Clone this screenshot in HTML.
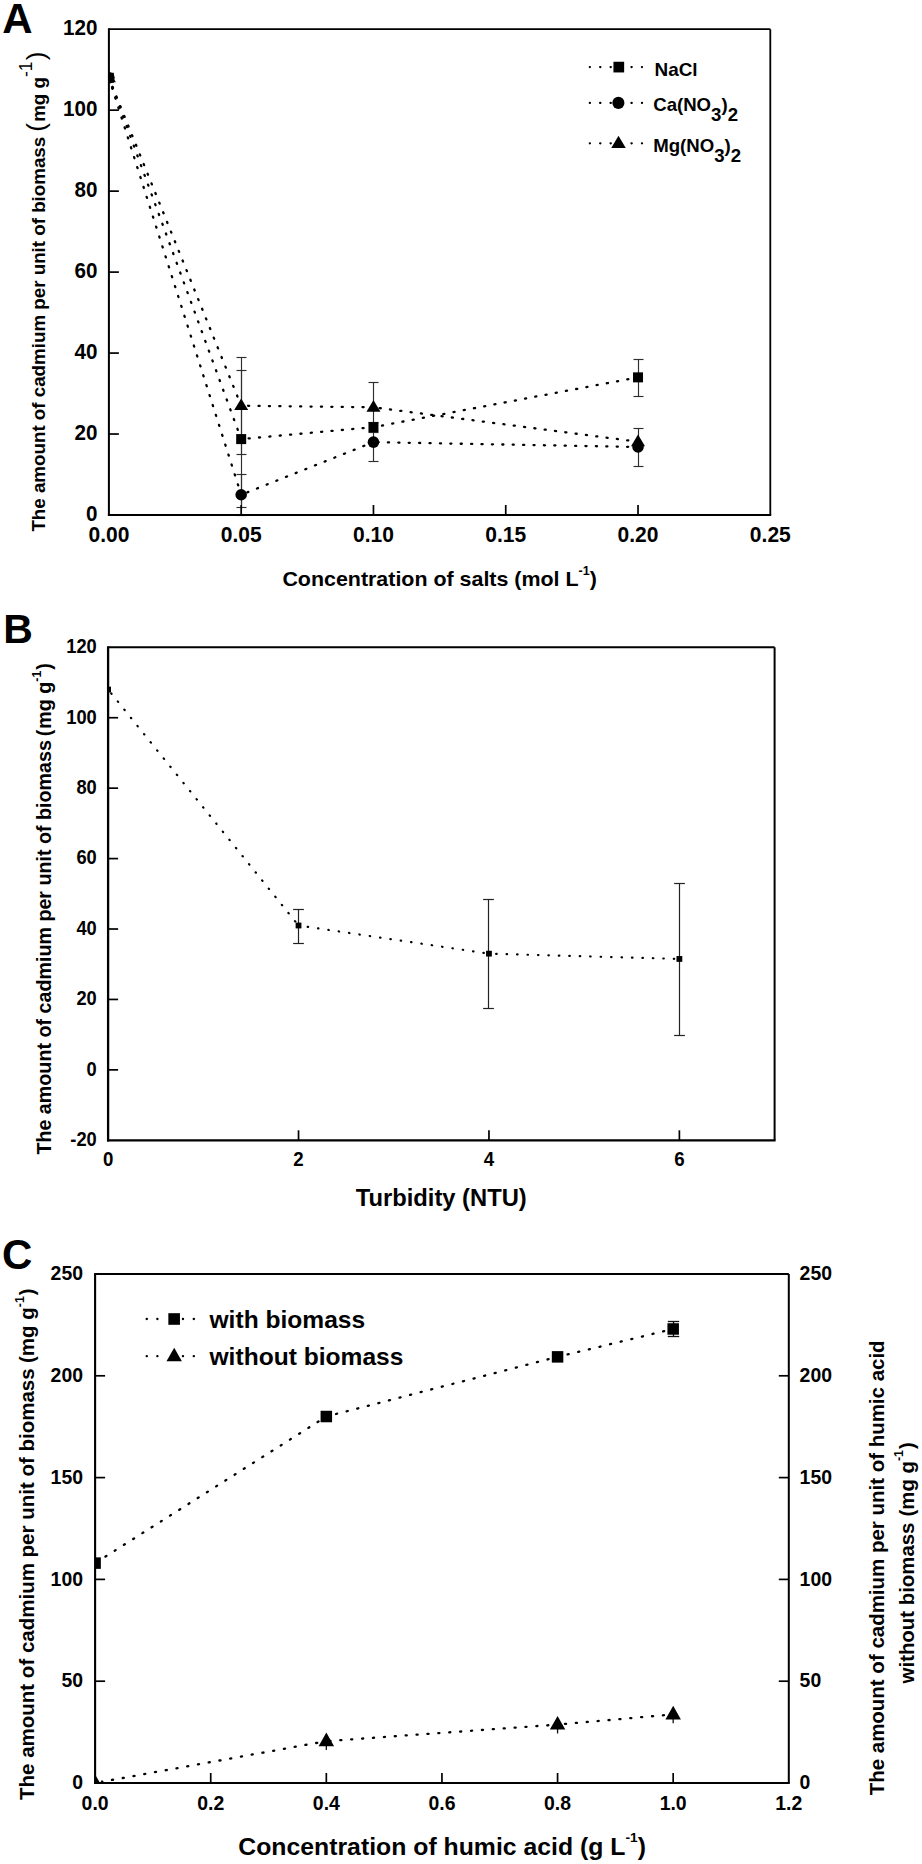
<!DOCTYPE html>
<html><head><meta charset="utf-8"><title>Figure</title>
<style>html,body{margin:0;padding:0;background:#fff}svg{display:block}</style></head>
<body>
<svg width="922" height="1864" viewBox="0 0 922 1864" font-family="Liberation Sans, Arial, Helvetica, sans-serif" font-weight="bold" fill="#000">
<rect width="922" height="1864" fill="#fff"/>
<clipPath id="ca"><rect x="108.90" y="19.20" width="671.40" height="505.80"/></clipPath>
<line x1="241.50" y1="357.50" x2="241.50" y2="454.50" stroke="#2e2e2e" stroke-width="1.15" />
<line x1="236.50" y1="357.50" x2="246.50" y2="357.50" stroke="#2e2e2e" stroke-width="1.15" />
<line x1="236.50" y1="454.50" x2="246.50" y2="454.50" stroke="#2e2e2e" stroke-width="1.15" />
<line x1="241.50" y1="370.50" x2="241.50" y2="507.50" stroke="#2e2e2e" stroke-width="1.15" />
<line x1="236.50" y1="370.50" x2="246.50" y2="370.50" stroke="#2e2e2e" stroke-width="1.15" />
<line x1="236.50" y1="507.50" x2="246.50" y2="507.50" stroke="#2e2e2e" stroke-width="1.15" />
<line x1="241.50" y1="474.50" x2="241.50" y2="515.50" stroke="#2e2e2e" stroke-width="1.15" />
<line x1="236.50" y1="474.50" x2="246.50" y2="474.50" stroke="#2e2e2e" stroke-width="1.15" />
<line x1="236.50" y1="515.50" x2="246.50" y2="515.50" stroke="#2e2e2e" stroke-width="1.15" />
<line x1="373.50" y1="382.50" x2="373.50" y2="432.50" stroke="#2e2e2e" stroke-width="1.15" />
<line x1="368.50" y1="382.50" x2="378.50" y2="382.50" stroke="#2e2e2e" stroke-width="1.15" />
<line x1="368.50" y1="432.50" x2="378.50" y2="432.50" stroke="#2e2e2e" stroke-width="1.15" />
<line x1="373.50" y1="422.50" x2="373.50" y2="461.50" stroke="#2e2e2e" stroke-width="1.15" />
<line x1="368.50" y1="422.50" x2="378.50" y2="422.50" stroke="#2e2e2e" stroke-width="1.15" />
<line x1="368.50" y1="461.50" x2="378.50" y2="461.50" stroke="#2e2e2e" stroke-width="1.15" />
<line x1="638.50" y1="359.50" x2="638.50" y2="396.50" stroke="#2e2e2e" stroke-width="1.15" />
<line x1="633.50" y1="359.50" x2="643.50" y2="359.50" stroke="#2e2e2e" stroke-width="1.15" />
<line x1="633.50" y1="396.50" x2="643.50" y2="396.50" stroke="#2e2e2e" stroke-width="1.15" />
<line x1="638.50" y1="428.50" x2="638.50" y2="466.50" stroke="#2e2e2e" stroke-width="1.15" />
<line x1="633.50" y1="428.50" x2="643.50" y2="428.50" stroke="#2e2e2e" stroke-width="1.15" />
<line x1="633.50" y1="466.50" x2="643.50" y2="466.50" stroke="#2e2e2e" stroke-width="1.15" />
<g clip-path="url(#ca)">
<line x1="241.18" y1="439.09" x2="108.90" y2="77.78" stroke="#000" stroke-width="2.3" stroke-linecap="round" stroke-dasharray="1.1 9.30" stroke-dashoffset="0.55"/>
<line x1="373.46" y1="427.15" x2="241.18" y2="439.09" stroke="#000" stroke-width="2.3" stroke-linecap="round" stroke-dasharray="1.1 9.30" stroke-dashoffset="0.55"/>
<line x1="638.02" y1="377.36" x2="373.46" y2="427.15" stroke="#000" stroke-width="2.3" stroke-linecap="round" stroke-dasharray="1.1 9.30" stroke-dashoffset="0.55"/>
<line x1="241.18" y1="494.76" x2="108.90" y2="77.78" stroke="#000" stroke-width="2.3" stroke-linecap="round" stroke-dasharray="1.1 9.30" stroke-dashoffset="0.55"/>
<line x1="373.46" y1="442.13" x2="241.18" y2="494.76" stroke="#000" stroke-width="2.3" stroke-linecap="round" stroke-dasharray="1.1 9.30" stroke-dashoffset="0.55"/>
<line x1="638.02" y1="446.99" x2="373.46" y2="442.13" stroke="#000" stroke-width="2.3" stroke-linecap="round" stroke-dasharray="1.1 9.30" stroke-dashoffset="0.55"/>
<line x1="241.18" y1="405.69" x2="108.90" y2="77.78" stroke="#000" stroke-width="2.3" stroke-linecap="round" stroke-dasharray="1.1 9.30" stroke-dashoffset="0.55"/>
<line x1="373.46" y1="407.31" x2="241.18" y2="405.69" stroke="#000" stroke-width="2.3" stroke-linecap="round" stroke-dasharray="1.1 9.30" stroke-dashoffset="0.55"/>
<line x1="638.02" y1="441.73" x2="373.46" y2="407.31" stroke="#000" stroke-width="2.3" stroke-linecap="round" stroke-dasharray="1.1 9.30" stroke-dashoffset="0.55"/>
<rect x="103.90" y="72.78" width="10" height="10" fill="#000"/>
<rect x="236.18" y="434.09" width="10" height="10" fill="#000"/>
<rect x="368.46" y="422.15" width="10" height="10" fill="#000"/>
<rect x="633.02" y="372.36" width="10" height="10" fill="#000"/>
<circle cx="108.90" cy="77.78" r="5.80" fill="#000"/>
<circle cx="241.18" cy="494.76" r="5.80" fill="#000"/>
<circle cx="373.46" cy="442.13" r="5.80" fill="#000"/>
<circle cx="638.02" cy="446.99" r="5.80" fill="#000"/>
<polygon points="108.90,70.48 101.90,82.18 115.90,82.18" fill="#000"/>
<polygon points="241.18,398.39 234.18,410.09 248.18,410.09" fill="#000"/>
<polygon points="373.46,400.01 366.46,411.71 380.46,411.71" fill="#000"/>
<polygon points="638.02,434.43 631.02,446.13 645.02,446.13" fill="#000"/>
</g>
<line x1="108.90" y1="29.20" x2="770.30" y2="29.20" stroke="#000" stroke-width="1.8" />
<line x1="770.30" y1="29.20" x2="770.30" y2="515.00" stroke="#000" stroke-width="1.8" />
<line x1="108.90" y1="28.30" x2="108.90" y2="516.00" stroke="#000" stroke-width="2.0" />
<line x1="107.90" y1="515.00" x2="771.20" y2="515.00" stroke="#000" stroke-width="2.0" />
<line x1="108.90" y1="434.03" x2="118.90" y2="434.03" stroke="#000" stroke-width="1.7" />
<line x1="108.90" y1="353.07" x2="118.90" y2="353.07" stroke="#000" stroke-width="1.7" />
<line x1="108.90" y1="272.10" x2="118.90" y2="272.10" stroke="#000" stroke-width="1.7" />
<line x1="108.90" y1="191.13" x2="118.90" y2="191.13" stroke="#000" stroke-width="1.7" />
<line x1="108.90" y1="110.17" x2="118.90" y2="110.17" stroke="#000" stroke-width="1.7" />
<line x1="241.18" y1="515.00" x2="241.18" y2="505.00" stroke="#000" stroke-width="1.7" />
<line x1="373.46" y1="515.00" x2="373.46" y2="505.00" stroke="#000" stroke-width="1.7" />
<line x1="505.74" y1="515.00" x2="505.74" y2="505.00" stroke="#000" stroke-width="1.7" />
<line x1="638.02" y1="515.00" x2="638.02" y2="505.00" stroke="#000" stroke-width="1.7" />
<text transform="translate(97.40,521.20) scale(0.93,1)" font-size="22.2" text-anchor="end" >0</text>
<text transform="translate(97.40,440.23) scale(0.93,1)" font-size="22.2" text-anchor="end" >20</text>
<text transform="translate(97.40,359.27) scale(0.93,1)" font-size="22.2" text-anchor="end" >40</text>
<text transform="translate(97.40,278.30) scale(0.93,1)" font-size="22.2" text-anchor="end" >60</text>
<text transform="translate(97.40,197.33) scale(0.93,1)" font-size="22.2" text-anchor="end" >80</text>
<text transform="translate(97.40,116.37) scale(0.93,1)" font-size="22.2" text-anchor="end" >100</text>
<text transform="translate(97.40,35.40) scale(0.93,1)" font-size="22.2" text-anchor="end" >120</text>
<text transform="translate(108.90,542.30) scale(0.955,1)" font-size="22" text-anchor="middle" >0.00</text>
<text transform="translate(241.18,542.30) scale(0.955,1)" font-size="22" text-anchor="middle" >0.05</text>
<text transform="translate(373.46,542.30) scale(0.955,1)" font-size="22" text-anchor="middle" >0.10</text>
<text transform="translate(505.74,542.30) scale(0.955,1)" font-size="22" text-anchor="middle" >0.15</text>
<text transform="translate(638.02,542.30) scale(0.955,1)" font-size="22" text-anchor="middle" >0.20</text>
<text transform="translate(770.30,542.30) scale(0.955,1)" font-size="22" text-anchor="middle" >0.25</text>
<text transform="translate(2.30,33.00) scale(1.0,1)" font-size="42" text-anchor="start" >A</text>
<text transform="translate(439.60,585.60) scale(1.04,1)" font-size="20.6" text-anchor="middle" >Concentration of salts (mol L<tspan dy="-10.7" font-size="12">-1</tspan><tspan dy="10.7">)</tspan></text>
<text transform="translate(44.80,531.60) rotate(-90) scale(1,1.0)" font-size="18.75" text-anchor="start">The amount of cadmium per unit of biomass</text>
<text transform="translate(44.80,51.60) rotate(-90) scale(1,1.0)" font-size="18.75" text-anchor="end"><tspan font-size="26" font-weight="normal">(</tspan><tspan dx="1.2">mg g</tspan><tspan dy="-12.5" dx="0" font-size="17.5" font-weight="normal">-1</tspan><tspan dy="12.5" dx="1.2" font-size="26" font-weight="normal">)</tspan></text>
<line x1="642.05" y1="67.10" x2="589.80" y2="67.10" stroke="#000" stroke-width="2.2" stroke-linecap="round" stroke-dasharray="0.3 10.15" stroke-dashoffset="0.15"/>
<rect x="613.45" y="61.75" width="10.7" height="10.7" fill="#000"/>
<text transform="translate(654.60,75.60) scale(1.05,1)" font-size="18" text-anchor="start" >NaCl</text>
<line x1="642.05" y1="102.90" x2="589.80" y2="102.90" stroke="#000" stroke-width="2.2" stroke-linecap="round" stroke-dasharray="0.3 10.15" stroke-dashoffset="0.15"/>
<circle cx="618.40" cy="102.90" r="6.05" fill="#000"/>
<text transform="translate(653.20,111.30) scale(1.035,1)" font-size="18" text-anchor="start" >Ca(NO<tspan dy="9.7">3</tspan><tspan dy="-9.7">)</tspan><tspan dy="9.7">2</tspan></text>
<line x1="642.05" y1="143.30" x2="589.80" y2="143.30" stroke="#000" stroke-width="2.2" stroke-linecap="round" stroke-dasharray="0.3 10.15" stroke-dashoffset="0.15"/>
<polygon points="618.50,135.70 611.25,147.90 625.75,147.90" fill="#000"/>
<text transform="translate(653.20,151.80) scale(1.035,1)" font-size="18" text-anchor="start" >Mg(NO<tspan dy="9.7">3</tspan><tspan dy="-9.7">)</tspan><tspan dy="9.7">2</tspan></text>
<line x1="298.50" y1="909.50" x2="298.50" y2="943.50" stroke="#222" stroke-width="1.2" />
<line x1="293.10" y1="909.50" x2="303.90" y2="909.50" stroke="#222" stroke-width="1.2" />
<line x1="293.10" y1="943.50" x2="303.90" y2="943.50" stroke="#222" stroke-width="1.2" />
<line x1="488.50" y1="899.50" x2="488.50" y2="1008.50" stroke="#222" stroke-width="1.2" />
<line x1="483.10" y1="899.50" x2="493.90" y2="899.50" stroke="#222" stroke-width="1.2" />
<line x1="483.10" y1="1008.50" x2="493.90" y2="1008.50" stroke="#222" stroke-width="1.2" />
<line x1="679.50" y1="883.50" x2="679.50" y2="1035.50" stroke="#222" stroke-width="1.2" />
<line x1="674.10" y1="883.50" x2="684.90" y2="883.50" stroke="#222" stroke-width="1.2" />
<line x1="674.10" y1="1035.50" x2="684.90" y2="1035.50" stroke="#222" stroke-width="1.2" />
<line x1="298.53" y1="925.49" x2="108.10" y2="689.56" stroke="#000" stroke-width="2.2" stroke-linecap="round" stroke-dasharray="0.5 9.95" stroke-dashoffset="-5.15"/>
<line x1="488.96" y1="953.66" x2="298.53" y2="925.49" stroke="#000" stroke-width="2.2" stroke-linecap="round" stroke-dasharray="0.5 9.95" stroke-dashoffset="-5.15"/>
<line x1="679.39" y1="958.95" x2="488.96" y2="953.66" stroke="#000" stroke-width="2.2" stroke-linecap="round" stroke-dasharray="0.5 9.95" stroke-dashoffset="-5.15"/>
<clipPath id="cb"><rect x="108.10" y="647.30" width="666.50" height="493.00"/></clipPath>
<g clip-path="url(#cb)">
<rect x="105.20" y="686.66" width="5.8" height="5.8" fill="#000"/>
</g>
<rect x="295.63" y="922.59" width="5.8" height="5.8" fill="#000"/>
<rect x="486.06" y="950.76" width="5.8" height="5.8" fill="#000"/>
<rect x="676.49" y="956.05" width="5.8" height="5.8" fill="#000"/>
<line x1="108.10" y1="647.30" x2="774.60" y2="647.30" stroke="#000" stroke-width="2.1" />
<line x1="774.60" y1="647.30" x2="774.60" y2="1140.30" stroke="#000" stroke-width="2.0" />
<line x1="108.10" y1="646.30" x2="108.10" y2="1141.40" stroke="#000" stroke-width="2.3" />
<line x1="107.00" y1="1140.30" x2="775.60" y2="1140.30" stroke="#000" stroke-width="2.2" />
<line x1="108.10" y1="1069.87" x2="118.10" y2="1069.87" stroke="#000" stroke-width="1.7" />
<line x1="108.10" y1="999.44" x2="118.10" y2="999.44" stroke="#000" stroke-width="1.7" />
<line x1="108.10" y1="929.01" x2="118.10" y2="929.01" stroke="#000" stroke-width="1.7" />
<line x1="108.10" y1="858.59" x2="118.10" y2="858.59" stroke="#000" stroke-width="1.7" />
<line x1="108.10" y1="788.16" x2="118.10" y2="788.16" stroke="#000" stroke-width="1.7" />
<line x1="108.10" y1="717.73" x2="118.10" y2="717.73" stroke="#000" stroke-width="1.7" />
<line x1="298.53" y1="1140.30" x2="298.53" y2="1130.30" stroke="#000" stroke-width="1.7" />
<line x1="488.96" y1="1140.30" x2="488.96" y2="1130.30" stroke="#000" stroke-width="1.7" />
<line x1="679.39" y1="1140.30" x2="679.39" y2="1130.30" stroke="#000" stroke-width="1.7" />
<text transform="translate(96.80,1146.20) scale(0.92,1)" font-size="19.9" text-anchor="end" >-20</text>
<text transform="translate(96.80,1075.77) scale(0.92,1)" font-size="19.9" text-anchor="end" >0</text>
<text transform="translate(96.80,1005.34) scale(0.92,1)" font-size="19.9" text-anchor="end" >20</text>
<text transform="translate(96.80,934.91) scale(0.92,1)" font-size="19.9" text-anchor="end" >40</text>
<text transform="translate(96.80,864.49) scale(0.92,1)" font-size="19.9" text-anchor="end" >60</text>
<text transform="translate(96.80,794.06) scale(0.92,1)" font-size="19.9" text-anchor="end" >80</text>
<text transform="translate(96.80,723.63) scale(0.92,1)" font-size="19.9" text-anchor="end" >100</text>
<text transform="translate(96.80,653.20) scale(0.92,1)" font-size="19.9" text-anchor="end" >120</text>
<text transform="translate(108.10,1166.40) scale(0.94,1)" font-size="19.9" text-anchor="middle" >0</text>
<text transform="translate(298.53,1166.40) scale(0.94,1)" font-size="19.9" text-anchor="middle" >2</text>
<text transform="translate(488.96,1166.40) scale(0.94,1)" font-size="19.9" text-anchor="middle" >4</text>
<text transform="translate(679.39,1166.40) scale(0.94,1)" font-size="19.9" text-anchor="middle" >6</text>
<text transform="translate(3.20,643.00) scale(1.0,1)" font-size="41" text-anchor="start" >B</text>
<text transform="translate(441.20,1205.60) scale(1.024,1)" font-size="23.2" text-anchor="middle" >Turbidity (NTU)</text>
<text transform="translate(50.50,1154.60) rotate(-90) scale(1,1.0)" font-size="19.7" text-anchor="start">The amount of cadmium per unit of biomass</text>
<text transform="translate(50.50,663.20) rotate(-90) scale(1,1.0)" font-size="19.7" text-anchor="end">(<tspan dx="1">mg g</tspan><tspan dy="-10" font-size="12.3">-1</tspan><tspan dy="10" dx="1">)</tspan></text>
<clipPath id="cc"><rect x="95.10" y="1264.00" width="703.70" height="519.00"/></clipPath>
<g clip-path="url(#cc)">
<line x1="673.50" y1="1321.50" x2="673.50" y2="1336.50" stroke="#111" stroke-width="1.3" />
<line x1="667.80" y1="1321.50" x2="679.20" y2="1321.50" stroke="#111" stroke-width="1.3" />
<line x1="667.80" y1="1336.50" x2="679.20" y2="1336.50" stroke="#111" stroke-width="1.3" />
<line x1="326.33" y1="1741.16" x2="326.33" y2="1750.06" stroke="#111" stroke-width="1.3" />
<line x1="557.57" y1="1724.57" x2="557.57" y2="1733.47" stroke="#111" stroke-width="1.3" />
<line x1="673.18" y1="1714.39" x2="673.18" y2="1723.29" stroke="#111" stroke-width="1.3" />
<line x1="326.33" y1="1416.52" x2="95.10" y2="1563.11" stroke="#000" stroke-width="2.3" stroke-linecap="round" stroke-dasharray="1.1 9.82" stroke-dashoffset="-9.25"/>
<line x1="557.57" y1="1356.87" x2="326.33" y2="1416.52" stroke="#000" stroke-width="2.3" stroke-linecap="round" stroke-dasharray="1.1 9.82" stroke-dashoffset="-9.25"/>
<line x1="673.18" y1="1328.97" x2="557.57" y2="1356.87" stroke="#000" stroke-width="2.3" stroke-linecap="round" stroke-dasharray="1.1 9.82" stroke-dashoffset="-9.25"/>
<line x1="326.33" y1="1741.16" x2="101.99" y2="1781.75" stroke="#000" stroke-width="2.3" stroke-linecap="round" stroke-dasharray="1.1 9.82" stroke-dashoffset="-9.25"/>
<line x1="557.57" y1="1724.57" x2="326.33" y2="1741.16" stroke="#000" stroke-width="2.3" stroke-linecap="round" stroke-dasharray="1.1 9.82" stroke-dashoffset="-9.25"/>
<line x1="673.18" y1="1714.39" x2="557.57" y2="1724.57" stroke="#000" stroke-width="2.3" stroke-linecap="round" stroke-dasharray="1.1 9.82" stroke-dashoffset="-9.25"/>
<rect x="89.35" y="1557.36" width="11.5" height="11.5" fill="#000"/>
<rect x="320.58" y="1410.77" width="11.5" height="11.5" fill="#000"/>
<rect x="551.82" y="1351.12" width="11.5" height="11.5" fill="#000"/>
<rect x="667.43" y="1323.22" width="11.5" height="11.5" fill="#000"/>
<polygon points="95.10,1774.40 87.35,1788.00 102.85,1788.00" fill="#000"/>
<polygon points="326.33,1732.56 318.58,1746.16 334.08,1746.16" fill="#000"/>
<polygon points="557.57,1715.97 549.82,1729.57 565.32,1729.57" fill="#000"/>
<polygon points="673.18,1705.79 665.43,1719.39 680.93,1719.39" fill="#000"/>
</g>
<line x1="95.10" y1="1274.00" x2="788.80" y2="1274.00" stroke="#000" stroke-width="2.0" />
<line x1="788.80" y1="1274.00" x2="788.80" y2="1783.00" stroke="#000" stroke-width="2.0" />
<line x1="95.10" y1="1273.00" x2="95.10" y2="1784.00" stroke="#000" stroke-width="2.1" />
<line x1="94.10" y1="1783.00" x2="789.80" y2="1783.00" stroke="#000" stroke-width="2.1" />
<line x1="95.10" y1="1681.20" x2="105.10" y2="1681.20" stroke="#000" stroke-width="1.7" />
<line x1="788.80" y1="1681.20" x2="778.80" y2="1681.20" stroke="#000" stroke-width="1.7" />
<line x1="95.10" y1="1579.40" x2="105.10" y2="1579.40" stroke="#000" stroke-width="1.7" />
<line x1="788.80" y1="1579.40" x2="778.80" y2="1579.40" stroke="#000" stroke-width="1.7" />
<line x1="95.10" y1="1477.60" x2="105.10" y2="1477.60" stroke="#000" stroke-width="1.7" />
<line x1="788.80" y1="1477.60" x2="778.80" y2="1477.60" stroke="#000" stroke-width="1.7" />
<line x1="95.10" y1="1375.80" x2="105.10" y2="1375.80" stroke="#000" stroke-width="1.7" />
<line x1="788.80" y1="1375.80" x2="778.80" y2="1375.80" stroke="#000" stroke-width="1.7" />
<line x1="210.72" y1="1783.00" x2="210.72" y2="1773.00" stroke="#000" stroke-width="1.7" />
<line x1="326.33" y1="1783.00" x2="326.33" y2="1773.00" stroke="#000" stroke-width="1.7" />
<line x1="441.95" y1="1783.00" x2="441.95" y2="1773.00" stroke="#000" stroke-width="1.7" />
<line x1="557.57" y1="1783.00" x2="557.57" y2="1773.00" stroke="#000" stroke-width="1.7" />
<line x1="673.18" y1="1783.00" x2="673.18" y2="1773.00" stroke="#000" stroke-width="1.7" />
<text transform="translate(83.00,1789.20) scale(0.947,1)" font-size="20.5" text-anchor="end" >0</text>
<text transform="translate(799.60,1789.20) scale(0.947,1)" font-size="20.5" text-anchor="start" >0</text>
<text transform="translate(83.00,1687.40) scale(0.947,1)" font-size="20.5" text-anchor="end" >50</text>
<text transform="translate(799.60,1687.40) scale(0.947,1)" font-size="20.5" text-anchor="start" >50</text>
<text transform="translate(83.00,1585.60) scale(0.947,1)" font-size="20.5" text-anchor="end" >100</text>
<text transform="translate(799.60,1585.60) scale(0.947,1)" font-size="20.5" text-anchor="start" >100</text>
<text transform="translate(83.00,1483.80) scale(0.947,1)" font-size="20.5" text-anchor="end" >150</text>
<text transform="translate(799.60,1483.80) scale(0.947,1)" font-size="20.5" text-anchor="start" >150</text>
<text transform="translate(83.00,1382.00) scale(0.947,1)" font-size="20.5" text-anchor="end" >200</text>
<text transform="translate(799.60,1382.00) scale(0.947,1)" font-size="20.5" text-anchor="start" >200</text>
<text transform="translate(83.00,1280.20) scale(0.947,1)" font-size="20.5" text-anchor="end" >250</text>
<text transform="translate(799.60,1280.20) scale(0.947,1)" font-size="20.5" text-anchor="start" >250</text>
<text transform="translate(95.10,1810.20) scale(0.947,1)" font-size="20.5" text-anchor="middle" >0.0</text>
<text transform="translate(210.72,1810.20) scale(0.947,1)" font-size="20.5" text-anchor="middle" >0.2</text>
<text transform="translate(326.33,1810.20) scale(0.947,1)" font-size="20.5" text-anchor="middle" >0.4</text>
<text transform="translate(441.95,1810.20) scale(0.947,1)" font-size="20.5" text-anchor="middle" >0.6</text>
<text transform="translate(557.57,1810.20) scale(0.947,1)" font-size="20.5" text-anchor="middle" >0.8</text>
<text transform="translate(673.18,1810.20) scale(0.947,1)" font-size="20.5" text-anchor="middle" >1.0</text>
<text transform="translate(788.80,1810.20) scale(0.947,1)" font-size="20.5" text-anchor="middle" >1.2</text>
<text transform="translate(2.00,1269.30) scale(1.0,1)" font-size="42" text-anchor="start" >C</text>
<text transform="translate(442.10,1855.30) scale(1.06,1)" font-size="23.4" text-anchor="middle" >Concentration of humic acid (g L<tspan dy="-13" font-size="13">-1</tspan><tspan dy="13">)</tspan></text>
<text transform="translate(34.30,1800.00) rotate(-90) scale(1,1.0)" font-size="20.5" text-anchor="start">The amount of cadmium per unit of biomass</text>
<text transform="translate(34.30,1288.30) rotate(-90) scale(1,1.0)" font-size="20.5" text-anchor="end">(mg g<tspan dy="-10.3" font-size="12.4">-1</tspan><tspan dy="10.3" dx="1">)</tspan></text>
<text transform="translate(883.60,1795.30) rotate(-90) scale(1,1.0)" font-size="20.48" text-anchor="start">The amount of cadmium per unit of humic acid</text>
<text transform="translate(913.60,1683.40) rotate(-90) scale(1,1.0)" font-size="20.4" text-anchor="start">without biomass</text>
<text transform="translate(913.60,1442.20) rotate(-90) scale(1,1.0)" font-size="20.4" text-anchor="end">(mg g<tspan dy="-10.3" font-size="12.4">-1</tspan><tspan dy="10.3" dx="1">)</tspan></text>
<line x1="157.45" y1="1319.00" x2="146.70" y2="1319.00" stroke="#000" stroke-width="2.3" stroke-linecap="round" stroke-dasharray="0.3 10.45" stroke-dashoffset="0.15"/>
<line x1="193.90" y1="1319.00" x2="182.90" y2="1319.00" stroke="#000" stroke-width="2.3" stroke-linecap="round" stroke-dasharray="0.3 10.70" stroke-dashoffset="0.15"/>
<rect x="168.35" y="1313.20" width="11.6" height="11.6" fill="#000"/>
<text transform="translate(209.50,1327.60) scale(1.06,1)" font-size="23.2" text-anchor="start" >with biomass</text>
<line x1="157.45" y1="1356.20" x2="146.70" y2="1356.20" stroke="#000" stroke-width="2.3" stroke-linecap="round" stroke-dasharray="0.3 10.45" stroke-dashoffset="0.15"/>
<line x1="193.90" y1="1356.20" x2="182.90" y2="1356.20" stroke="#000" stroke-width="2.3" stroke-linecap="round" stroke-dasharray="0.3 10.70" stroke-dashoffset="0.15"/>
<polygon points="174.20,1347.70 166.50,1361.30 181.90,1361.30" fill="#000"/>
<text transform="translate(209.50,1364.80) scale(1.06,1)" font-size="23.2" text-anchor="start" >without biomass</text>
</svg>
</body></html>
